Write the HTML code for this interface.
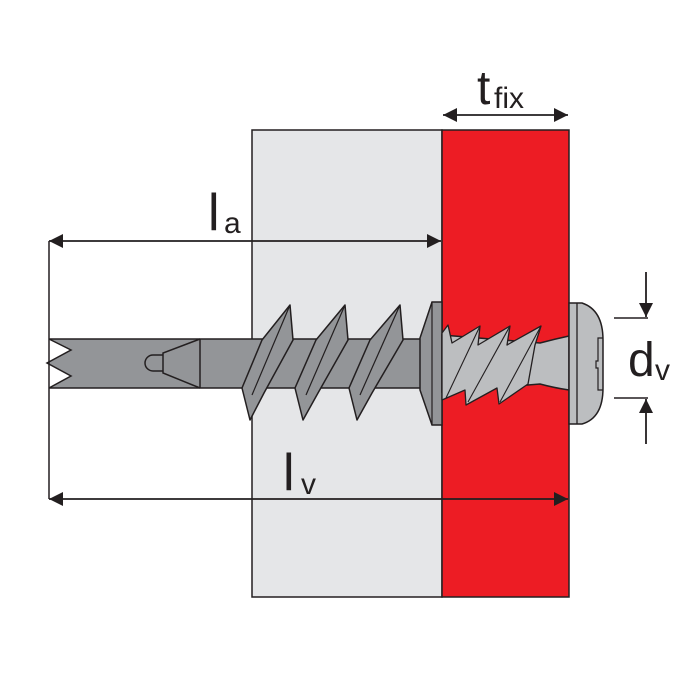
<!DOCTYPE html>
<html><head><meta charset="utf-8"><style>html,body{margin:0;padding:0;background:#fff}svg{display:block}</style></head>
<body>
<svg width="700" height="700" viewBox="0 0 700 700" xmlns="http://www.w3.org/2000/svg" font-family="Liberation Sans, sans-serif">
<defs>
<marker id="ah" viewBox="0 0 10 10" refX="10" refY="5" markerWidth="14" markerHeight="14" markerUnits="userSpaceOnUse" orient="auto-start-reverse"><path d="M0,0 L10,5 L0,10 Z" fill="#231f20"/></marker>
</defs>
<rect x="252" y="130" width="190" height="467" fill="#e5e6e8" stroke="#231f20" stroke-width="1.5"/>
<rect x="442" y="130" width="127" height="467" fill="#ed1c24" stroke="#231f20" stroke-width="1.5"/>
<path d="M49,339 L432,339 L432,388 L49,388 L71,376 L47,363 L71,350 Z" fill="#939598" stroke="#231f20" stroke-width="1.5" stroke-linejoin="miter"/>
<line x1="200" y1="339" x2="200" y2="388" stroke="#231f20" stroke-width="1.5"/>
<path d="M200,339 L163,353 L163,373 L200,388" fill="none" stroke="#231f20" stroke-width="1.5"/>
<path d="M163,355 L153,355 A8,8 0 0 0 153,371 L163,371" fill="none" stroke="#231f20" stroke-width="1.5"/>
<g fill="#939598" stroke="#231f20" stroke-width="1.5" stroke-linejoin="round">
<path d="M290,305 L293,340 L264,393 L250,420 L242,388 L262,340 Z"/>
<path d="M345,305 L348,340 L318,393 L303,420 L295,388 L316,340 Z"/>
<path d="M400,305 L403,340 L372,393 L357,420 L349,388 L370,340 Z"/>
</g>
<g stroke="#231f20" stroke-width="1.2">
<line x1="290" y1="305" x2="252" y2="395"/><line x1="345" y1="305" x2="306" y2="395"/><line x1="400" y1="305" x2="360" y2="395"/>
</g>
<path d="M432,302 L442,302 L442,425 L432,425 L420,390 L420,338 Z" fill="#939598" stroke="#231f20" stroke-width="1.5"/>
<line x1="432" y1="302" x2="432" y2="425" stroke="#231f20" stroke-width="1.2"/>
<!-- red section screw -->
<path d="M442,335 L540,343 Q555,339 569,336 L569,390 Q555,388 540,384 L442,392 Z" fill="#bcbec0" stroke="#231f20" stroke-width="1.5"/>
<path d="M442,333 L448,325 L452,343 L480,326 L478,345 L510,326 L507,345 L541,326 L535,345 L528,384 L499,404 L497,388 L466,405 L465,390 L442,400 Z" fill="#bcbec0" stroke="#231f20" stroke-width="1.3" stroke-linejoin="round"/>
<g stroke="#231f20" stroke-width="1.1">
<line x1="480" y1="326" x2="446" y2="398"/><line x1="510" y1="326" x2="468" y2="402"/><line x1="541" y1="326" x2="500" y2="402"/>
</g>
<path d="M569,303 L582,303 Q603,310 603,340 L603,388 Q603,418 582,424 L569,424 Z" fill="#bcbec0" stroke="#231f20" stroke-width="1.5"/>
<line x1="577" y1="303" x2="577" y2="424" stroke="#231f20" stroke-width="1.3"/>
<path d="M603,338 L598,338 L598,361 L596,361 L596,368 L598,368 L598,390 L603,390" fill="none" stroke="#231f20" stroke-width="1.2"/>
<g stroke="#231f20" stroke-width="1.8" fill="none">
<line x1="49" y1="241" x2="49" y2="499" stroke-width="1.5"/>
<line x1="49" y1="241" x2="441" y2="241" marker-start="url(#ah)" marker-end="url(#ah)"/>
<line x1="49" y1="499" x2="568" y2="499" marker-start="url(#ah)" marker-end="url(#ah)"/>
<line x1="443" y1="115" x2="568" y2="115" marker-start="url(#ah)" marker-end="url(#ah)"/>
<line x1="614" y1="318" x2="648" y2="318" stroke-width="1.5"/>
<line x1="614" y1="398" x2="648" y2="398" stroke-width="1.5"/>
<line x1="646" y1="272" x2="646" y2="317" marker-end="url(#ah)"/>
<line x1="646" y1="444" x2="646" y2="399" marker-end="url(#ah)"/>
</g>
<g fill="#231f20">
<text x="208" y="230" font-size="52">l</text><text x="224" y="233" font-size="30">a</text>
<text x="283" y="490" font-size="52">l</text><text x="301" y="494" font-size="30">v</text>
<text x="477" y="104" font-size="48">t</text><text x="494" y="108" font-size="30">fix</text>
<text x="628" y="376" font-size="48">d</text><text x="655" y="380" font-size="30">v</text>
</g>
</svg>
</body></html>
